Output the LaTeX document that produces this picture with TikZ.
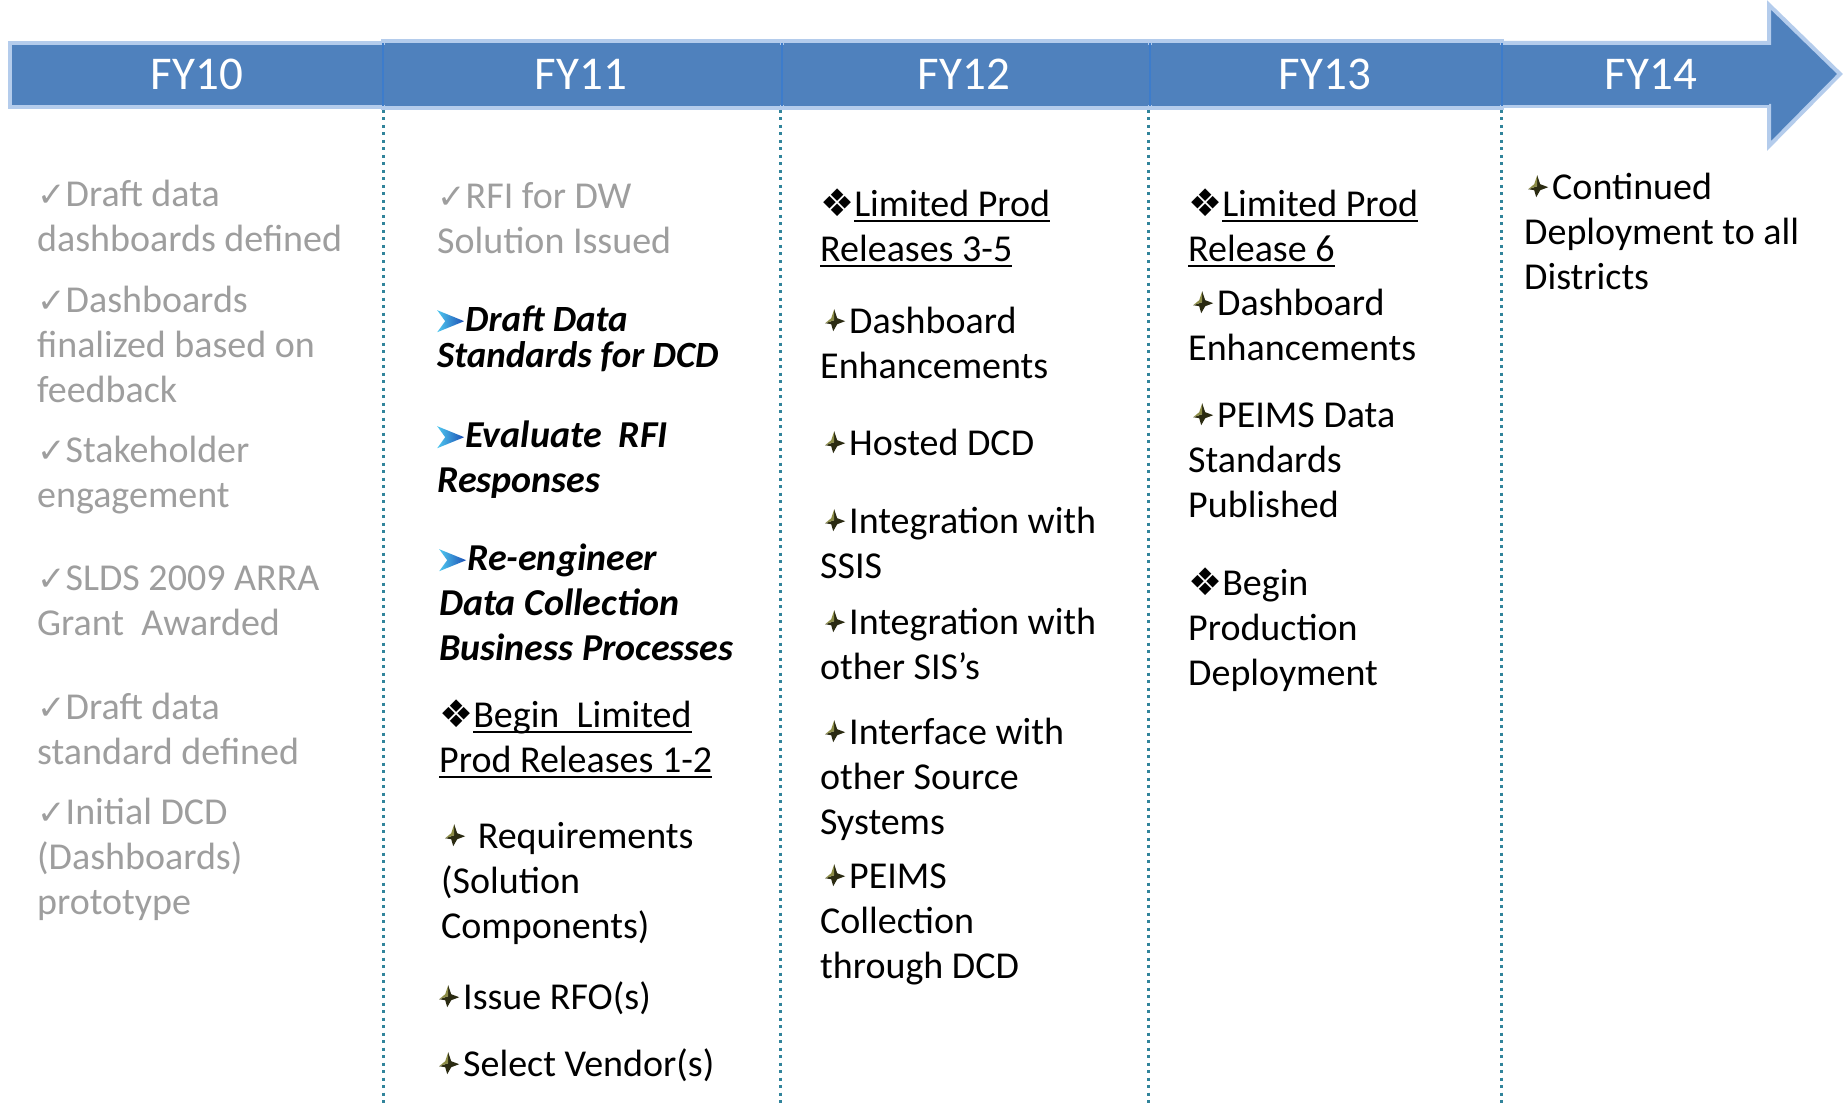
\documentclass[tikz,border=0pt]{standalone}
\usepackage{fontspec}
\setmainfont{Carlito}
\newfontfamily\dejavu{DejaVu Sans}
\definecolor{barblue}{HTML}{4F81BD}
\definecolor{glowblue}{HTML}{B4CCEC}
\definecolor{sepblue}{HTML}{3D7CCB}
\definecolor{dotteal}{HTML}{31849B}
\definecolor{donegray}{HTML}{9E9E9E}
\definecolor{olivelight}{HTML}{8C8C46}
\definecolor{olivedark}{HTML}{2B2B12}
\definecolor{arrowcyan}{HTML}{4FC8F0}
\definecolor{arrowblue}{HTML}{1C4FB4}
\newcommand\chk{{\dejavu\bfseries\fontsize{34}{34}\selectfont ✓}}
\newcommand\diam{{\dejavu\fontsize{38}{38}\selectfont ❖}}
\newcommand\arrb{\tikz[x=1pt,y=1pt,baseline=0pt]\shade[left color=arrowcyan,right color=arrowblue] (0,21)--(27,10)--(0,-1)--(8,10)--cycle;\hspace{1pt}}
\newcommand\bstar{\tikz[x=1pt,y=1pt,baseline=0pt]{\fill[olivedark] (9,24)--(12,15)--(20,12)--(12,9)--(8,2)--(6,9)--(0,10)--(9,13)--cycle;\fill[olivelight] (0,10)--(6,15)--(9,24)--(9,13)--cycle;}\hspace{4pt}}
\newcommand\myul[1]{\leavevmode\setbox0\hbox{#1}\rlap{\rule[-6pt]{\wd0}{2.6pt}}\box0}
\newcommand\topstrut{\rule{0pt}{30pt}}
\begin{document}
\begin{tikzpicture}[x=1pt,y=-1pt,
  item/.style={anchor=north west, inner sep=0pt, align=left, font=\fontsize{38}{45}\selectfont},
  done/.style={item, text=donegray},
  todo/.style={item, text=black},
  emph/.style={todo, font=\fontsize{38}{45}\selectfont\bfseries\itshape},
  fylabel/.style={text=white, font=\fontsize{47}{50}\selectfont, inner sep=0pt},
  divider/.style={dotteal, line width=3pt, dash pattern=on 3pt off 4.5pt},
  seg/.style={fill=barblue, draw=glowblue, line width=4pt, line join=miter}]
\useasboundingbox (0,0) rectangle (1843,1107);
\fill[white] (0,0) rectangle (1843,1107);
% banner
\path[seg] (10,43) rectangle (383,107);
\path[seg] (383,41) rectangle (782,108);
\path[seg] (782,41) rectangle (1150,108);
\path[seg] (1150,41) rectangle (1502,108);
\path[seg] (1502,43) -- (1769,43) -- (1769,5) -- (1840,74) -- (1769,146) -- (1769,106) -- (1502,106) -- cycle;
\fill[barblue] (12,45) rectangle (1769,105);
\foreach \xx in {383,782,1150,1502} \draw[sepblue, line width=2pt] (\xx,43) -- (\xx,106);
\node[fylabel] (fy10) at (197,74) {FY10};
\node[fylabel] (fy11) at (581,74) {FY11};
\node[fylabel] (fy12) at (964,74) {FY12};
\node[fylabel] (fy13) at (1325,74) {FY13};
\node[fylabel] (fy14) at (1651,74) {FY14};
% dividers
\coordinate (d1t) at (383,110); \coordinate (d1b) at (383,1107);
\coordinate (d2t) at (780,110); \coordinate (d2b) at (780,1107);
\coordinate (d3t) at (1148,110); \coordinate (d3b) at (1148,1107);
\coordinate (d4t) at (1501,110); \coordinate (d4b) at (1501,1107);
\draw[divider] (d1t) -- (d1b);
\draw[divider] (d2t) -- (d2b);
\draw[divider] (d3t) -- (d3b);
\draw[divider] (d4t) -- (d4b);
% FY10
\node[done] (a1) at (37,176) {\topstrut\chk Draft data\\dashboards defined};
\node[done] (a2) at (37,282) {\topstrut\chk Dashboards\\finalized based on\\feedback};
\node[done] (a3) at (37,432) {\topstrut\chk Stakeholder\\engagement};
\node[done] (a4) at (37,560) {\topstrut\chk SLDS 2009 ARRA\\Grant~ Awarded};
\node[done] (a5) at (37,689) {\topstrut\chk Draft data\\standard defined};
\node[done] (a6) at (37,794) {\topstrut\chk Initial DCD\\(Dashboards)\\prototype};
% FY11
\node[done] (b1) at (437,178) {\topstrut\chk RFI for DW\\Solution Issued};
\node[emph, font=\fontsize{37}{36}\selectfont\bfseries\itshape] (b2) at (437,301) {\topstrut\arrb Draft Data\\Standards for DCD};
\node[emph] (b3) at (437,417) {\topstrut\arrb Evaluate~ RFI\\Responses};
\node[emph] (b4) at (439,540) {\topstrut\arrb Re-engineer\\Data Collection\\Business Processes};
\node[todo] (b5) at (439,697) {\topstrut\diam\myul{Begin~ Limited}\\\myul{Prod Releases 1-2}};
\node[todo] (b6) at (441,818) {\topstrut\hspace{4pt}\bstar\ Requirements\\(Solution\\Components)};
\node[todo] (b7) at (439,979) {\topstrut\bstar Issue RFO(s)};
\node[todo] (b8) at (439,1046) {\topstrut\bstar Select Vendor(s)};
% FY12
\node[todo] (c1) at (820,186) {\topstrut\diam\myul{Limited Prod}\\\myul{Releases 3-5}};
\node[todo] (c2) at (820,303) {\topstrut\hspace{5pt}\bstar Dashboard\\Enhancements};
\node[todo] (c3) at (820,425) {\topstrut\hspace{5pt}\bstar Hosted DCD};
\node[todo] (c4) at (820,503) {\topstrut\hspace{5pt}\bstar Integration with\\SSIS};
\node[todo] (c5) at (820,604) {\topstrut\hspace{5pt}\bstar Integration with\\other SIS’s};
\node[todo] (c6) at (820,714) {\topstrut\hspace{5pt}\bstar Interface with\\other Source\\Systems};
\node[todo] (c7) at (820,858) {\topstrut\hspace{5pt}\bstar PEIMS\\Collection\\through DCD};
% FY13
\node[todo] (e1) at (1188,186) {\topstrut\diam\myul{Limited Prod}\\\myul{Release 6}};
\node[todo] (e2) at (1188,285) {\topstrut\hspace{5pt}\bstar Dashboard\\Enhancements};
\node[todo] (e3) at (1188,397) {\topstrut\hspace{5pt}\bstar PEIMS Data\\Standards\\Published};
\node[todo] (e4) at (1188,565) {\topstrut\diam Begin\\Production\\Deployment};
% FY14
\node[todo] (f1) at (1524,169) {\topstrut\hspace{4pt}\bstar Continued\\Deployment to all\\Districts};
\end{tikzpicture}
\end{document}
